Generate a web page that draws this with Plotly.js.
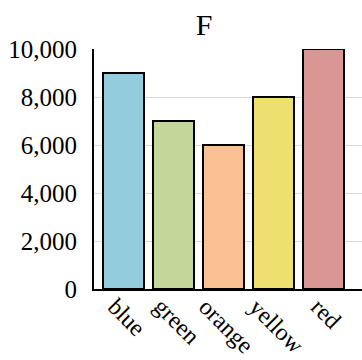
<!DOCTYPE html>
<html>
<head>
<meta charset="utf-8">
<script src="https://cdn.plot.ly/plotly-3.0.1.min.js"></script>
<style>html,body{margin:0;padding:0;background:#fff;}#chart{width:362px;height:360px;}</style>
</head>
<body>
<div id="chart"></div>
<script>
var categories = ["blue", "green", "orange", "yellow", "red"];
var values = [9000, 7000, 6000, 8000, 10000];
var barColors = ["#93cddd", "#c4d79b", "#f9c191", "#ede06e", "#da9694"];
var yTickVals = [0, 2000, 4000, 6000, 8000, 10000];
var yTickText = ["0", "2,000", "4,000", "6,000", "8,000", "10,000"];

var fam = "Liberation Serif";
var tickFont = {family: fam, size: 25, color: "#000"};
var labelFont = {family: fam, size: 24, color: "#000"};
var titleFont = {family: fam, size: 30, color: "#000"};

var annotations = categories.map(function (c, i) {
  return {
    xref: "x", yref: "paper", x: i, y: 0,
    text: c, showarrow: false, textangle: 45,
    xanchor: "center", yanchor: "top", yshift: -3, xshift: 3,
    borderpad: 0,
    font: labelFont
  };
});

Plotly.newPlot("chart", [{
  type: "bar",
  x: categories.map(function (c, i) { return i; }),
  y: values,
  marker: {color: barColors, line: {color: "#000", width: 2}},
  hoverinfo: "none"
}], {
  width: 362, height: 360,
  margin: {l: 94, r: 0, t: 49, b: 71, pad: 0},
  paper_bgcolor: "#fff", plot_bgcolor: "#fff",
  font: tickFont,
  title: {text: "F", font: titleFont, x: 0.564, xanchor: "center", yref: "paper", y: 1.09, yanchor: "middle"},
  bargap: 0.18,
  showlegend: false,
  annotations: annotations,
  xaxis: {
    range: [-0.59, 4.77],
    showline: true, linecolor: "#000", linewidth: 2,
    showgrid: false, zeroline: false,
    showticklabels: false, ticks: ""
  },
  yaxis: {
    range: [0, 10000],
    tickvals: yTickVals, ticktext: yTickText,
    showline: true, linecolor: "#000", linewidth: 2,
    showgrid: true, gridcolor: "#d9d9d9", gridwidth: 1,
    zeroline: false,
    ticks: "", ticklabelstandoff: 10,
    tickfont: tickFont
  }
}, {staticPlot: true});
</script>
</body>
</html>
